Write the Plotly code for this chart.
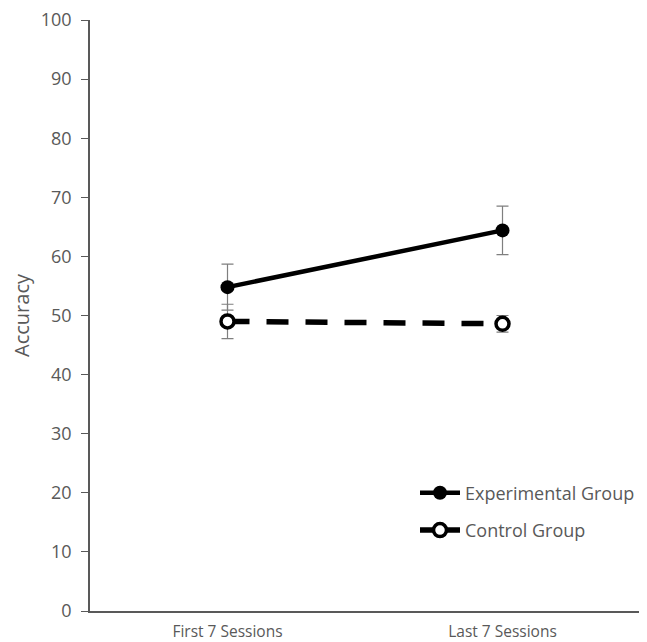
import plotly.graph_objects as go

categories = ["First 7 Sessions", "Last 7 Sessions"]
exp_vals = [54.8, 64.4]
exp_err = [3.9, 4.1]
ctrl_vals = [49.0, 48.6]
ctrl_err = [2.9, 1.4]
y_ticks = [0, 10, 20, 30, 40, 50, 60, 70, 80, 90, 100]

grey = "#595959"
ctrl_marker = dict(symbol="circle", size=13, color="white", line=dict(color="black", width=3.5))

fig = go.Figure()
fig.add_trace(go.Scatter(
    x=categories, y=exp_vals, name="Experimental Group", mode="lines+markers",
    legendgroup="exp",
    line=dict(color="black", width=4.5),
    marker=dict(symbol="circle", size=14, color="black"),
    error_y=dict(type="data", array=exp_err, color="#7f7f7f", thickness=1.2, width=6),
))
fig.add_trace(go.Scatter(
    x=categories, y=ctrl_vals, name="Control Group", mode="lines+markers",
    legendgroup="ctrl", showlegend=False,
    line=dict(color="black", width=5.5, dash="22px,17px"),
    marker=ctrl_marker,
    error_y=dict(type="data", array=ctrl_err, color="#7f7f7f", thickness=1.2, width=6),
))
# legend entry for the control group (solid key line as in the original legend)
fig.add_trace(go.Scatter(
    x=[None], y=[None], name="Control Group", mode="lines+markers",
    legendgroup="ctrl", showlegend=True,
    line=dict(color="black", width=5.5),
    marker=ctrl_marker,
))
fig.update_layout(
    width=639, height=634,
    margin=dict(l=82, r=7, t=12, b=31),
    plot_bgcolor="white", paper_bgcolor="white",
    font=dict(family="Open Sans", size=18, color=grey),
    showlegend=True,
    legend=dict(x=1.0, y=0.231, xanchor="right", yanchor="top",
                bgcolor="rgba(0,0,0,0)", font=dict(size=18, color=grey),
                tracegroupgap=11, itemwidth=40),
    xaxis=dict(type="category", range=[-0.5, 1.5], showline=True, linecolor=grey,
               linewidth=1.5, ticks="", showgrid=False, zeroline=False,
               tickfont=dict(size=15.5), ticklabelstandoff=6, automargin=False),
    yaxis=dict(range=[0, 100], tickvals=y_ticks, showline=True, linecolor=grey,
               linewidth=1.5, ticks="outside", ticklen=7, tickcolor=grey,
               showgrid=False, zeroline=False, ticklabelstandoff=6,
               ticklabeloverflow="allow", automargin=False,
               tickfont=dict(size=18),
               title=dict(text="Accuracy", standoff=17, font=dict(size=20))),
)
fig.write_html("out.html")
